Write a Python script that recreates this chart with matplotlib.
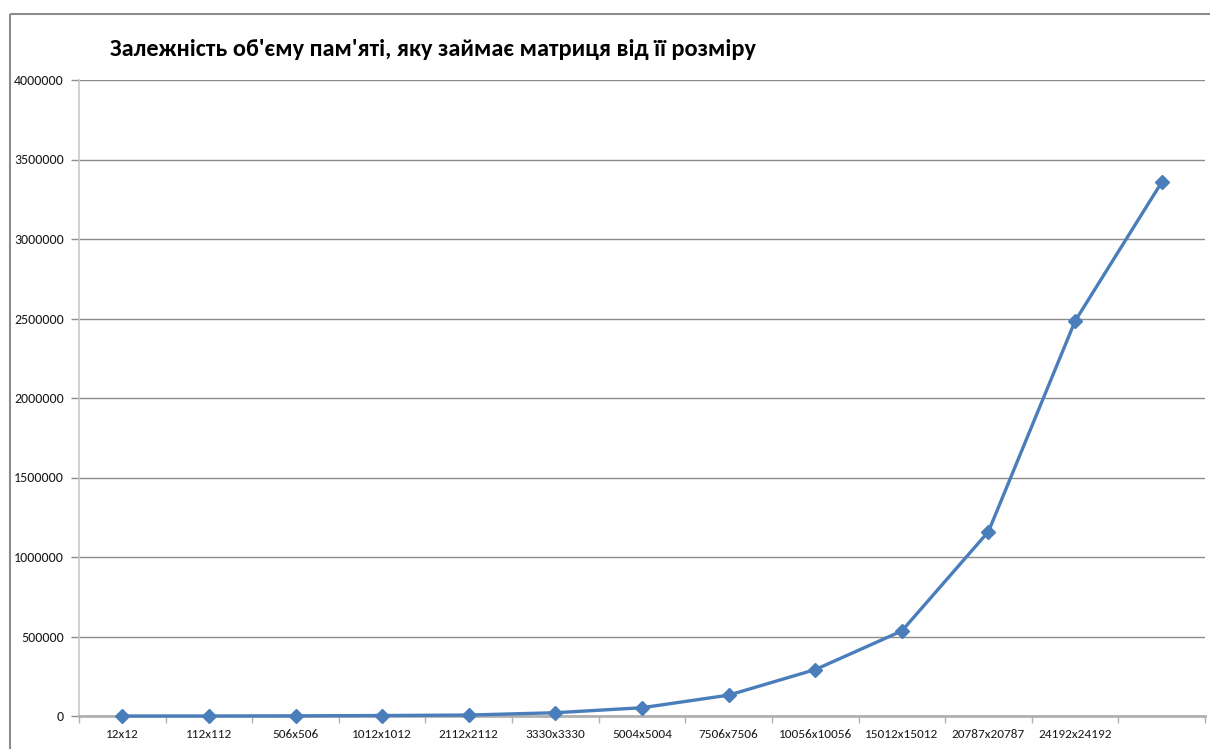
import matplotlib
matplotlib.use("Agg")
import matplotlib.pyplot as plt
from matplotlib import font_manager
from matplotlib.lines import Line2D

# Matrix sizes and memory occupied
sizes = ["12x12", "112x112", "506x506", "1012x1012", "2112x2112", "3330x3330",
         "5004x5004", "7506x7506", "10056x10056", "15012x15012", "20787x20787",
         "24192x24192", ""]
memory = [50, 200, 1000, 3000, 6000, 20600, 52000, 131000, 292000, 535000,
          1160000, 2484000, 3357000]

title = "Залежність об'єму пам'яті, яку займає матриця від її розміру"
y_ticks = list(range(0, 4000001, 500000))

available = {f.name for f in font_manager.fontManager.ttflist}


def pick(prefs):
    for p in prefs:
        if p in available:
            return p
    return "DejaVu Sans"


body_font = pick(["Carlito", "Liberation Sans Narrow", "Liberation Sans", "Open Sans"])
title_font = pick(["Liberation Sans Narrow", "Carlito", "Liberation Sans", "Open Sans"])

W, H, DPI = 1210, 749, 100
fig = plt.figure(figsize=(W / DPI, H / DPI), dpi=DPI)
fig.patch.set_facecolor("white")
fig.patch.set_linewidth(0)

# outer chart frame: top and left edges
frame_kw = dict(transform=fig.transFigure, color="#8c8c8c", linewidth=1.5,
                solid_capstyle="butt")
fig.add_artist(Line2D([10 / W, 1.01], [1 - 14 / H, 1 - 14 / H], **frame_kw))
fig.add_artist(Line2D([10 / W, 10 / W], [-0.01, 1 - 14 / H], **frame_kw))

ax = fig.add_axes([79 / W, 33 / H, (1205 - 79) / W, (716 - 80) / H])
x = list(range(len(sizes)))
ax.plot(x, memory, color="#4a7ebb", linewidth=2.4, marker="D",
        markersize=7.5, markerfacecolor="#4a7ebb", markeredgecolor="#4a7ebb",
        zorder=3, clip_on=False)

ax.set_xlim(-0.5, len(sizes) - 0.5)
ax.set_ylim(0, 4000000)
ax.set_yticks(y_ticks)
ax.set_yticklabels([str(v) for v in y_ticks])
ax.set_xticks(x)
ax.set_xticklabels(sizes)
ax.set_xticks([i - 0.5 for i in range(len(sizes) + 1)], minor=True)

ax.grid(axis="y", which="major", color="#8c8c8c", linewidth=1.0)
ax.set_axisbelow(True)
ax.tick_params(axis="x", which="major", length=0, pad=9,
               labelsize=9.5, labelcolor="#1a1a1a")
ax.tick_params(axis="x", which="minor", length=5, color="#b0b0b0", width=1,
               top=False)
ax.tick_params(axis="y", length=6, color="#8c8c8c", width=1, pad=5,
               labelsize=10, labelcolor="#1a1a1a", right=False)
for lab in ax.get_xticklabels() + ax.get_yticklabels():
    lab.set_fontfamily(body_font)

for s in ("top", "right"):
    ax.spines[s].set_visible(False)
ax.spines["left"].set_color("#c8c8c8")
ax.spines["left"].set_linewidth(1.2)
ax.spines["bottom"].set_color("#b0b0b0")
ax.spines["bottom"].set_linewidth(2)

t = fig.text(110 / W, 1 - 49 / H, title, ha="left", va="center",
             fontsize=18, fontweight="bold", family=title_font, color="#000000")
fig.canvas.draw()
width = t.get_window_extent().width
t.set_fontsize(18 * 645 / width)

fig.savefig("out.png", dpi=DPI, facecolor="white")
